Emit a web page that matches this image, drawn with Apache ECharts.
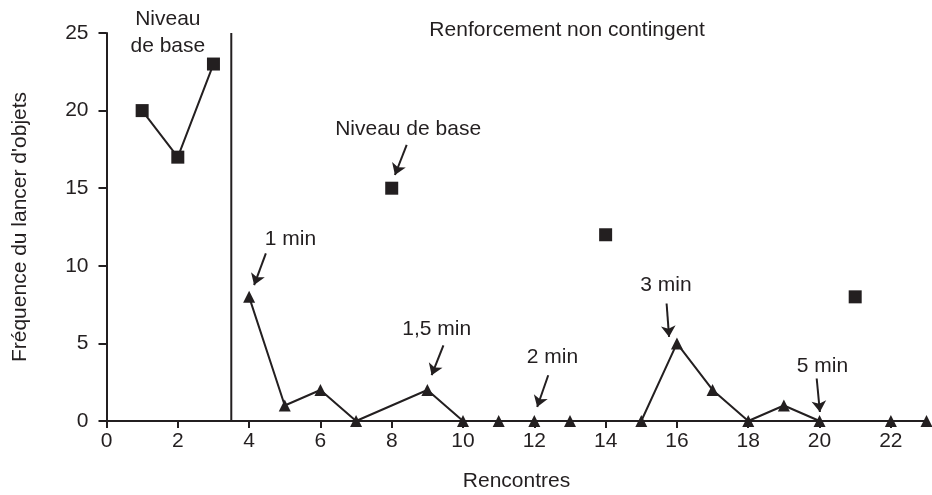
<!DOCTYPE html>
<html><head><meta charset="utf-8">
<script src="https://cdn.jsdelivr.net/npm/echarts@6/dist/echarts.min.js"></script>
<style>html,body{margin:0;padding:0;background:#fff}#c{width:932px;height:495px}</style>
</head><body><div id="c"></div>
<script>
// Data
var baselineX = [1, 2, 3];
var baselineY = [20, 17, 23];
var probeX = [8, 14, 21];
var probeY = [15, 12, 8];
var ncrX = [4, 5, 6, 7, 9, 10, 11, 12, 13, 15, 16, 17, 18, 19, 20, 22, 23];
var ncrY = [8, 1, 2, 0, 2, 0, 0, 0, 0, 0, 5, 2, 0, 1, 0, 0, 0];
var phaseChangeX = 3.5;
var xTicks = [0, 2, 4, 6, 8, 10, 12, 14, 16, 18, 20, 22];
var yTicks = [0, 5, 10, 15, 20, 25];
// Annotation texts and their anchor points (data units)
var noteTexts = ['Niveau\nde base', 'Renforcement non contingent', 'Niveau de base', '1 min', '1,5 min', '2 min', '3 min', '5 min'];
var noteX = [1.72, 12.92, 8.46, 5.16, 9.26, 12.51, 15.69, 20.08];
var noteY = [25.05, 25.2, 18.8, 11.72, 5.93, 4.13, 8.72, 3.56];
// Arrows: from (x1,y1) to (x2,y2)
var arrowX1 = [8.42, 4.47, 9.45, 12.39, 15.71, 19.92];
var arrowY1 = [17.79, 10.8, 4.88, 2.95, 7.57, 2.74];
var arrowX2 = [8.09, 4.14, 9.12, 12.08, 15.78, 20.01];
var arrowY2 = [15.85, 8.76, 2.95, 0.9, 5.42, 0.58];

var ink = '#231f20';
var font = 'Liberation Sans, Arial, sans-serif';
var fs = 21;

function zip(a, b) { return a.map(function (v, i) { return [v, b[i]]; }); }

var chart = echarts.init(document.getElementById('c'), null, { renderer: 'canvas' });
chart.setOption({
  animation: false,
  backgroundColor: '#fff',
  grid: { left: 106.5, right: 5.5, top: 33, bottom: 74, containLabel: false, outerBoundsMode: 'none' },
  xAxis: {
    type: 'value', min: 0, max: 23, interval: 2,
    name: 'Rencontres', nameLocation: 'middle', nameGap: 50,
    nameTextStyle: { color: ink, fontFamily: font, fontSize: fs },
    axisLine: { onZero: false, lineStyle: { color: ink, width: 2 } },
    axisTick: { show: true, length: 7, lineStyle: { color: ink, width: 2 }, customValues: xTicks },
    axisLabel: { color: ink, fontFamily: font, fontSize: fs, margin: 10, customValues: xTicks },
    splitLine: { show: false }
  },
  yAxis: {
    type: 'value', min: 0, max: 25, interval: 5,
    name: "Fréquence du lancer d'objets", nameLocation: 'middle', nameGap: 76, nameRotate: 90,
    nameTextStyle: { color: ink, fontFamily: font, fontSize: fs },
    axisLine: { show: true, lineStyle: { color: ink, width: 2 } },
    axisTick: { show: true, length: 8, lineStyle: { color: ink, width: 2 }, customValues: yTicks },
    axisLabel: { color: ink, fontFamily: font, fontSize: fs, margin: 18, customValues: yTicks },
    splitLine: { show: false }
  },
  series: [
    {
      type: 'line', data: [[phaseChangeX, 0], [phaseChangeX, 25]], symbol: 'none',
      lineStyle: { color: ink, width: 2 }, silent: true, z: 1
    },
    {
      type: 'line', data: zip(baselineX, baselineY), symbol: 'rect', symbolSize: 13,
      lineStyle: { color: ink, width: 2 }, itemStyle: { color: ink }, z: 3
    },
    {
      type: 'scatter', data: zip(probeX, probeY), symbol: 'rect', symbolSize: 13,
      itemStyle: { color: ink, opacity: 1 }, z: 3
    },
    {
      type: 'line', data: zip(ncrX, ncrY), symbol: 'triangle', symbolSize: 12,
      lineStyle: { color: ink, width: 2 }, itemStyle: { color: ink }, z: 3, clip: false
    },
    {
      type: 'scatter', clip: false, symbolSize: 1, itemStyle: { color: 'rgba(0,0,0,0)' },
      data: noteTexts.map(function (t, i) { return [noteX[i], noteY[i], t]; }),
      label: {
        show: true, position: 'inside', color: ink, opacity: 1, textBorderWidth: 0,
        fontFamily: font, fontSize: fs, lineHeight: 27, align: 'center', verticalAlign: 'middle',
        formatter: function (p) { return p.value[2]; }
      },
      emphasis: { disabled: true },
      z: 5, silent: true
    },
    {
      type: 'line', data: [], symbol: 'none',
      markLine: {
        silent: true, symbol: ['none', 'arrow'], symbolSize: 11, animation: false,
        lineStyle: { color: ink, width: 2, type: 'solid' },
        label: { show: false },
        data: arrowX1.map(function (v, i) {
          return [{ coord: [v, arrowY1[i]] }, { coord: [arrowX2[i], arrowY2[i]] }];
        })
      }
    }
  ]
});
</script>
</body></html>
